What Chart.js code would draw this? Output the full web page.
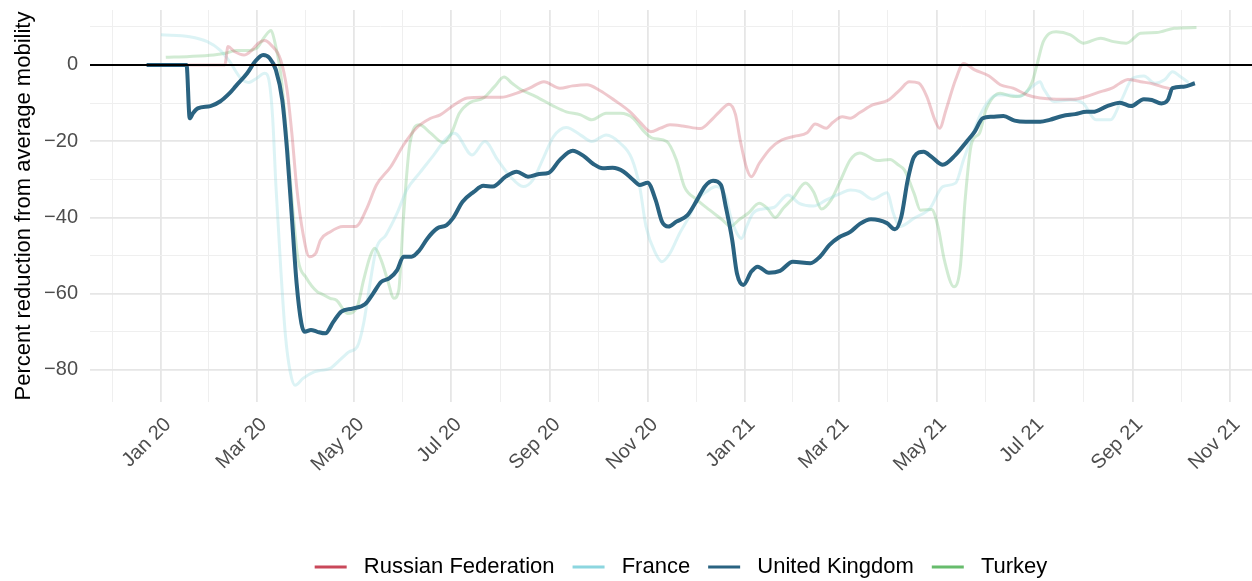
<!DOCTYPE html>
<html>
<head>
<meta charset="utf-8">
<script src="https://cdn.jsdelivr.net/npm/chart.js@4.4.1/dist/chart.umd.min.js"></script>
<style>
  html, body { margin: 0; padding: 0; background: #fff; }
</style>
</head>
<body>
<canvas id="mobilityChart" width="1252" height="581"></canvas>
<script>
// x values are days since 2020-01-01
const seriesNames = ['Russian Federation', 'France', 'United Kingdom', 'Turkey'];
const seriesColors = ['#C9485A', '#8CD6DF', '#2A6381', '#67BC6C'];

const ruDays = [-9, 40, 42, 46, 52, 57, 61, 65, 69, 75, 79, 82, 85, 89, 93, 97, 100, 106, 114, 122, 129, 135, 144, 152, 160, 169, 175, 183, 192, 202, 213, 223, 231, 240, 250, 258, 267, 275, 284, 294, 300, 307, 313, 319, 327, 338, 346, 350, 356, 360, 363, 367, 370, 375, 382, 389, 397, 405, 410, 417, 421, 427, 432, 438, 446, 456, 463, 469, 475, 480, 485, 488, 492, 498, 503, 510, 519, 526, 534, 543, 551, 561, 572, 580, 589, 596, 601, 606, 614, 622, 629, 634];
const ruVals = [0, 0, 4.8, 3.5, 2.6, 3.9, 5.7, 6.4, 5.2, 1.3, -6.6, -17.9, -31.9, -44.2, -50.3, -49.4, -45.9, -43.8, -42.4, -42.4, -37.6, -31.5, -26.7, -21.0, -16.6, -14.0, -13.1, -10.7, -8.7, -8.5, -8.5, -7.4, -6.1, -4.4, -6.1, -5.5, -5.2, -6.7, -9.2, -12.3, -14.9, -17.5, -16.6, -15.7, -16.0, -16.7, -14.0, -12.3, -10.3, -12.9, -19.7, -27.0, -29.3, -25.8, -21.9, -19.7, -18.7, -17.8, -15.5, -16.6, -15.1, -13.6, -14.0, -12.5, -10.5, -9.2, -6.6, -4.4, -4.8, -8.3, -14.4, -16.6, -11.8, -3.9, 0.4, -1.3, -2.9, -5.2, -6.1, -7.9, -8.7, -9.0, -9.0, -8.3, -7.0, -6.1, -4.8, -3.8, -4.4, -5.0, -5.9, -6.4];

const frDays = [0, 18, 29, 37, 43, 50, 55, 60, 65, 68, 70, 72, 75, 78, 81, 84, 89, 96, 100, 106, 112, 118, 123, 127, 131, 135, 141, 148, 154, 162, 171, 179, 184, 195, 203, 211, 219, 227, 233, 240, 246, 254, 263, 270, 279, 288, 295, 300, 304, 310, 314, 319, 325, 331, 336, 342, 348, 354, 357, 361, 364, 367, 371, 377, 384, 393, 400, 409, 417, 426, 432, 438, 446, 455, 459, 463, 472, 482, 490, 498, 503, 509, 515, 524, 532, 538, 545, 551, 553, 560, 570, 578, 586, 595, 602, 609, 616, 623, 629, 634, 639, 644];
const frVals = [7.9, 7.4, 6.1, 3.9, 0.9, -3.5, -4.6, -3.5, -2.2, -4.8, -14.0, -31.5, -53.0, -71.0, -80.5, -84.0, -82.2, -80.5, -80.1, -79.6, -77.4, -75.2, -73.9, -67.8, -57.3, -48.1, -44.6, -38.9, -32.8, -28.4, -23.6, -19.2, -17.9, -23.6, -20.1, -24.9, -29.3, -31.9, -30.2, -24.1, -18.8, -16.4, -18.4, -20.1, -18.4, -20.6, -24.5, -31.9, -42.4, -49.4, -51.6, -49.4, -44.2, -39.8, -35.4, -33.2, -31.9, -34.6, -39.8, -44.2, -45.5, -42.4, -38.9, -37.8, -37.4, -34.1, -36.3, -37.0, -35.4, -33.7, -32.8, -33.2, -35.2, -33.5, -38.9, -42.4, -40.2, -37.6, -31.9, -31.0, -24.9, -17.9, -11.8, -7.9, -7.9, -8.3, -6.1, -4.4, -6.1, -9.6, -9.2, -10.1, -14.4, -14.4, -9.2, -3.5, -2.9, -4.8, -3.9, -1.8, -3.1, -4.6];

const ukDays = [-9, 16, 18, 20, 23, 31, 37, 43, 47, 54, 59, 64, 68, 72, 76, 79, 82, 85, 88, 90, 94, 98, 103, 108, 113, 120, 128, 133, 138, 143, 148, 152, 157, 162, 167, 173, 179, 183, 189, 196, 202, 208, 216, 223, 230, 237, 243, 250, 258, 265, 271, 277, 283, 290, 296, 300, 305, 310, 314, 318, 323, 330, 336, 341, 346, 351, 354, 358, 361, 365, 370, 374, 381, 388, 396, 407, 413, 419, 425, 432, 438, 445, 455, 460, 464, 468, 472, 478, 483, 490, 498, 505, 510, 515, 521, 528, 535, 542, 551, 557, 565, 573, 580, 584, 593, 601, 608, 616, 621, 627, 631, 634, 641, 648];
const ukVals = [0, 0, -14.0, -12.7, -11.4, -10.8, -9.6, -7.4, -5.5, -2.2, 0.9, 2.6, 1.8, -1.3, -9.2, -22.3, -39.8, -57.3, -67.8, -70.0, -69.5, -70.0, -70.4, -67.4, -64.7, -63.9, -62.7, -59.9, -56.9, -56.0, -53.8, -50.3, -50.3, -48.6, -45.5, -42.9, -42.0, -40.2, -35.9, -33.3, -31.7, -31.9, -29.3, -28.0, -29.3, -28.6, -28.3, -24.9, -22.5, -23.9, -26.0, -27.1, -27.0, -28.0, -30.2, -31.5, -30.9, -35.4, -41.1, -42.4, -41.1, -39.4, -35.4, -31.8, -30.4, -31.5, -37.2, -45.9, -54.7, -57.7, -54.2, -52.9, -54.5, -54.0, -51.6, -52.0, -50.3, -47.2, -45.2, -43.8, -41.7, -40.5, -41.5, -43.1, -39.8, -30.2, -24.1, -22.8, -24.1, -26.2, -23.6, -20.1, -17.5, -14.0, -13.6, -13.4, -14.6, -14.9, -14.9, -14.4, -13.4, -12.9, -12.3, -12.3, -10.8, -9.9, -10.8, -9.0, -9.2, -10.1, -9.2, -6.1, -5.7, -4.8];

const trDays = [3, 18, 33, 41, 47, 54, 60, 65, 69, 71, 75, 79, 83, 86, 91, 98, 100, 106, 110, 117, 123, 127, 131, 134, 138, 142, 146, 149, 152, 156, 162, 169, 177, 182, 187, 194, 202, 209, 215, 220, 226, 235, 246, 254, 263, 270, 279, 288, 296, 302, 308, 317, 323, 328, 336, 344, 352, 357, 362, 368, 375, 380, 385, 390, 396, 404, 409, 414, 420, 426, 432, 438, 449, 457, 462, 466, 472, 476, 483, 487, 491, 497, 501, 504, 508, 513, 517, 526, 534, 540, 546, 549, 553, 561, 570, 578, 589, 597, 605, 614, 624, 635, 649];
const trVals = [2.0, 2.2, 2.6, 3.1, 3.8, 3.8, 4.4, 7.4, 9.0, 6.6, -2.2, -19.7, -39.8, -51.2, -55.8, -59.5, -59.9, -61.2, -61.7, -65.2, -63.4, -56.4, -50.3, -48.1, -51.2, -56.4, -61.2, -59.1, -39.8, -20.6, -15.7, -17.9, -20.4, -17.9, -12.7, -9.8, -8.7, -5.7, -3.2, -4.8, -6.6, -8.3, -10.8, -12.3, -13.1, -14.4, -12.7, -12.7, -14.0, -17.1, -19.2, -20.1, -24.9, -31.9, -35.4, -38.1, -40.7, -42.4, -40.7, -38.9, -36.3, -37.6, -40.0, -37.6, -35.0, -31.0, -33.3, -37.8, -35.4, -30.2, -24.9, -23.1, -25.1, -24.8, -26.2, -27.6, -33.7, -38.1, -37.9, -42.4, -51.2, -58.2, -52.9, -35.4, -20.6, -17.9, -11.8, -7.4, -8.3, -7.9, -4.5, 0.0, 6.1, 8.7, 7.9, 5.7, 7.0, 6.1, 5.7, 8.3, 8.5, 9.6, 9.8];

// axis ticks (days since 2020-01-01)
const monthTickDays = [0, 60, 121, 182, 244, 305, 366, 425, 486, 547, 609, 670];
const monthTickLabels = ['Jan 20', 'Mar 20', 'May 20', 'Jul 20', 'Sep 20', 'Nov 20', 'Jan 21', 'Mar 21', 'May 21', 'Jul 21', 'Sep 21', 'Nov 21'];
const minorTickDays = [-30.5, 30, 90.5, 151.5, 213, 274.5, 335.5, 395.5, 455.5, 516.5, 578, 639.5];
const yTickValues = [-80, -70, -60, -50, -40, -30, -20, -10, 0, 10];

Chart.defaults.font.family = "'Liberation Sans', Arial, sans-serif";

function toPoints(days, vals) {
    return days.map((d, i) => ({ x: d, y: vals[i] }));
}
function fade(hex, a) {
    const n = parseInt(hex.slice(1), 16);
    return `rgba(${n >> 16}, ${(n >> 8) & 255}, ${n & 255}, ${a})`;
}

const allDays = [ruDays, frDays, ukDays, trDays];
const allVals = [ruVals, frVals, ukVals, trVals];
const datasets = seriesNames.map((name, i) => {
    const isUK = name === 'United Kingdom';
    return {
        label: name,
        data: toPoints(allDays[i], allVals[i]),
        borderColor: isUK ? seriesColors[i] : fade(seriesColors[i], 0.3),
        borderWidth: isUK ? 4 : 3,
        pointRadius: 0,
        cubicInterpolationMode: 'monotone',
        fill: false,
        order: isUK ? 0 : 1
    };
});

const tickLabelMap = {};
monthTickDays.forEach((d, i) => { tickLabelMap[d] = monthTickLabels[i]; });

// black reference line at zero, drawn above the series
const zeroLine = {
    id: 'zeroLine',
    afterDatasetsDraw(chart) {
        const { ctx, chartArea, scales } = chart;
        const y = scales.y.getPixelForValue(0);
        ctx.save();
        ctx.strokeStyle = '#000';
        ctx.lineWidth = 2;
        ctx.beginPath();
        ctx.moveTo(chartArea.left, y);
        ctx.lineTo(chartArea.right, y);
        ctx.stroke();
        ctx.restore();
    }
};

// nudge the legend row a little to the right, as in the original
const legendNudge = {
    id: 'legendNudge',
    afterLayout(chart) {
        if (!chart.legend) return;
        chart.legend.left += 10;
        chart.legend.right += 10;
    }
};

new Chart(document.getElementById('mobilityChart'), {
    type: 'line',
    data: { datasets },
    plugins: [zeroLine, legendNudge],
    options: {
        responsive: false,
        animation: false,
        parsing: false,
        layout: { padding: { top: 10, right: 0, bottom: -7, left: 0 } },
        plugins: {
            tooltip: { enabled: false },
            legend: {
                position: 'bottom',
                fullSize: false,
                labels: {
                    color: '#000',
                    font: { size: 22 },
                    boxWidth: 32,
                    boxHeight: 3,
                    padding: 18,
                    generateLabels: () => seriesNames.map((name, i) => ({
                        text: ' ' + name,
                        fillStyle: seriesColors[i],
                        strokeStyle: seriesColors[i],
                        lineWidth: 0,
                        hidden: false,
                        datasetIndex: i
                    }))
                }
            }
        },
        scales: {
            x: {
                type: 'linear',
                min: -44.5,
                max: 683.8,
                border: { display: false },
                afterBuildTicks: scale => {
                    scale.ticks = minorTickDays.concat(monthTickDays)
                        .sort((a, b) => a - b)
                        .map(v => ({ value: v }));
                },
                afterFit: scale => {
                    scale.height = 136;
                    scale.paddingLeft = 0;
                    scale.paddingRight = 0;
                },
                grid: {
                    drawTicks: false,
                    color: c => (c.tick && tickLabelMap[c.tick.value] ? '#E6E6E6' : '#EFEFEF'),
                    lineWidth: c => (c.tick && tickLabelMap[c.tick.value] ? 1.8 : 1)
                },
                ticks: {
                    autoSkip: false,
                    minRotation: 45,
                    maxRotation: 45,
                    padding: 11,
                    labelOffset: 7,
                    color: '#4D4D4D',
                    font: { size: 20 },
                    callback: v => tickLabelMap[v] || ''
                }
            },
            y: {
                min: -88.4,
                max: 14.4,
                border: { display: false },
                afterBuildTicks: scale => {
                    scale.ticks = yTickValues.map(v => ({ value: v }));
                },
                afterFit: scale => {
                    scale.width = 90;
                    scale.paddingTop = 0;
                    scale.paddingBottom = 0;
                },
                grid: {
                    drawTicks: false,
                    color: c => (c.tick && c.tick.value % 20 === 0 ? '#E6E6E6' : '#EFEFEF'),
                    lineWidth: c => (c.tick && c.tick.value % 20 === 0 ? 1.8 : 1)
                },
                ticks: {
                    padding: 12,
                    color: '#4D4D4D',
                    font: { size: 20 },
                    callback: v => (v % 20 === 0 ? (v < 0 ? '\u2212' + Math.abs(v) : String(v)) : '')
                },
                title: {
                    display: true,
                    text: 'Percent reduction from average mobility',
                    color: '#000',
                    font: { size: 22 },
                    padding: { top: 11, bottom: 0 }
                }
            }
        }
    }
});
</script>
</body>
</html>
